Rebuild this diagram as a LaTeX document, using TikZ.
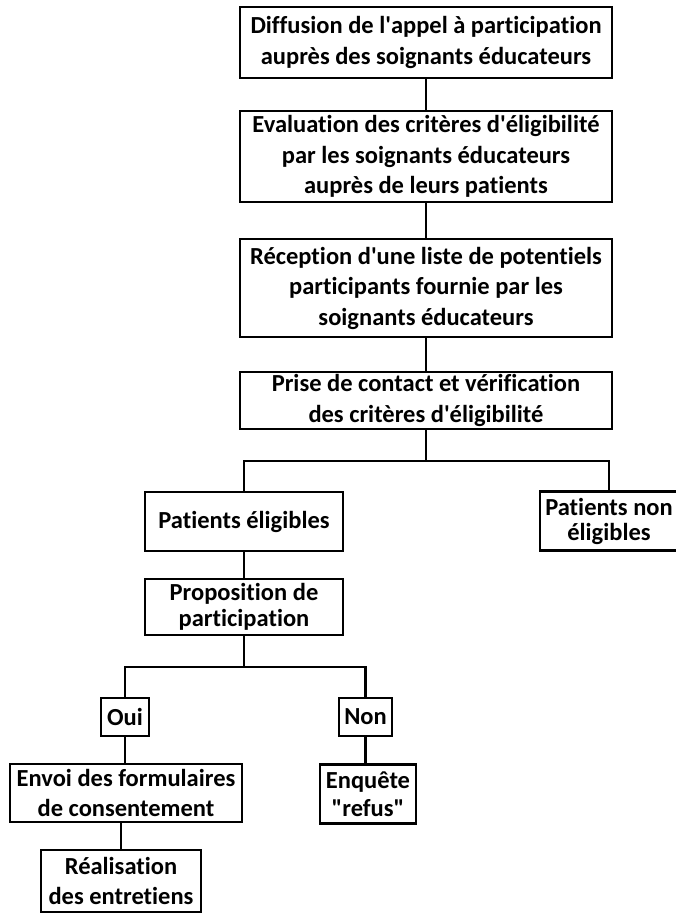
\documentclass[tikz,border=0pt]{standalone}
\usepackage{fontspec}
\setmainfont{Carlito}[Ligatures={TeX,NoCommon}]
\usetikzlibrary{positioning}
\tikzset{
  stepbox/.style={draw, line width=2.4pt, align=center, inner sep=0pt,
    font=\fontsize{24.5}{30.5}\selectfont\bfseries},
  link/.style={line width=2.4pt},
}
\newcommand{\aq}{\textquotesingle}

\begin{document}
\begin{tikzpicture}[x=1pt, y=-1pt]
  \useasboundingbox (0,0) rectangle (675,913);

  % Main column
  \node[stepbox, minimum width=372pt, minimum height=71pt] (diff) at (426,42.5)
    {Diffusion de l\aq appel à participation\\auprès des soignants éducateurs};
  \node[stepbox, minimum width=372pt, minimum height=91pt] (eval) at (426,156.5)
    {Evaluation des critères d\aq éligibilité\\par les soignants éducateurs\\auprès de leurs patients};
  \node[stepbox, minimum width=372pt, minimum height=98pt] (recep) at (426,288)
    {Réception d\aq une liste de potentiels\\participants fournie par les\\soignants éducateurs};
  \node[stepbox, minimum width=372pt, minimum height=57pt] (contact) at (426,400.5)
    {Prise de contact et vérification\\des critères d\aq éligibilité};

  \draw[link] (diff) -- (eval);
  \draw[link] (eval) -- (recep);
  \draw[link] (recep) -- (contact);

  % Eligibility split
  \node[stepbox, minimum width=198pt, minimum height=59pt] (elig) at (244,521.5)
    {Patients éligibles};
  \node[stepbox, minimum width=138pt, minimum height=59pt] (nonelig) at (609,521)
    {Patients non\\[-5.5pt]éligibles};
  \coordinate (j1) at (426,461);
  \draw[link] (contact) -- (j1);
  \draw[link] (elig.north) |- (j1) -| (nonelig.north);

  \node[stepbox, minimum width=198pt, minimum height=56pt] (prop) at (244,607)
    {Proposition de\\[-4.5pt]participation};
  \draw[link] (elig) -- (prop);

  % Answer split
  \node[stepbox, minimum width=48pt, minimum height=38pt] (oui) at (125,717) {Oui};
  \node[stepbox, minimum width=53pt, minimum height=38pt] (non) at (365.5,717) {Non};
  \coordinate (j2) at (244,667);
  \draw[link] (prop) -- (j2);
  \draw[link] (oui.north) |- (j2) -| (non.north);

  \node[stepbox, minimum width=232pt, minimum height=58pt] (envoi) at (126,793)
    {Envoi des formulaires\\de consentement};
  \node[stepbox, minimum width=96pt, minimum height=59pt] (enq) at (368,794)
    {Enquête\\[-2.5pt]\textquotedbl refus\textquotedbl};
  \node[stepbox, minimum width=160pt, minimum height=62pt] (real) at (121,881)
    {Réalisation\\des entretiens};

  \draw[link] (oui) -- (oui |- envoi.north);
  \draw[link] (non) -- (non |- enq.north);
  \draw[link] (envoi.south -| real) -- (real);
\end{tikzpicture}
\end{document}
